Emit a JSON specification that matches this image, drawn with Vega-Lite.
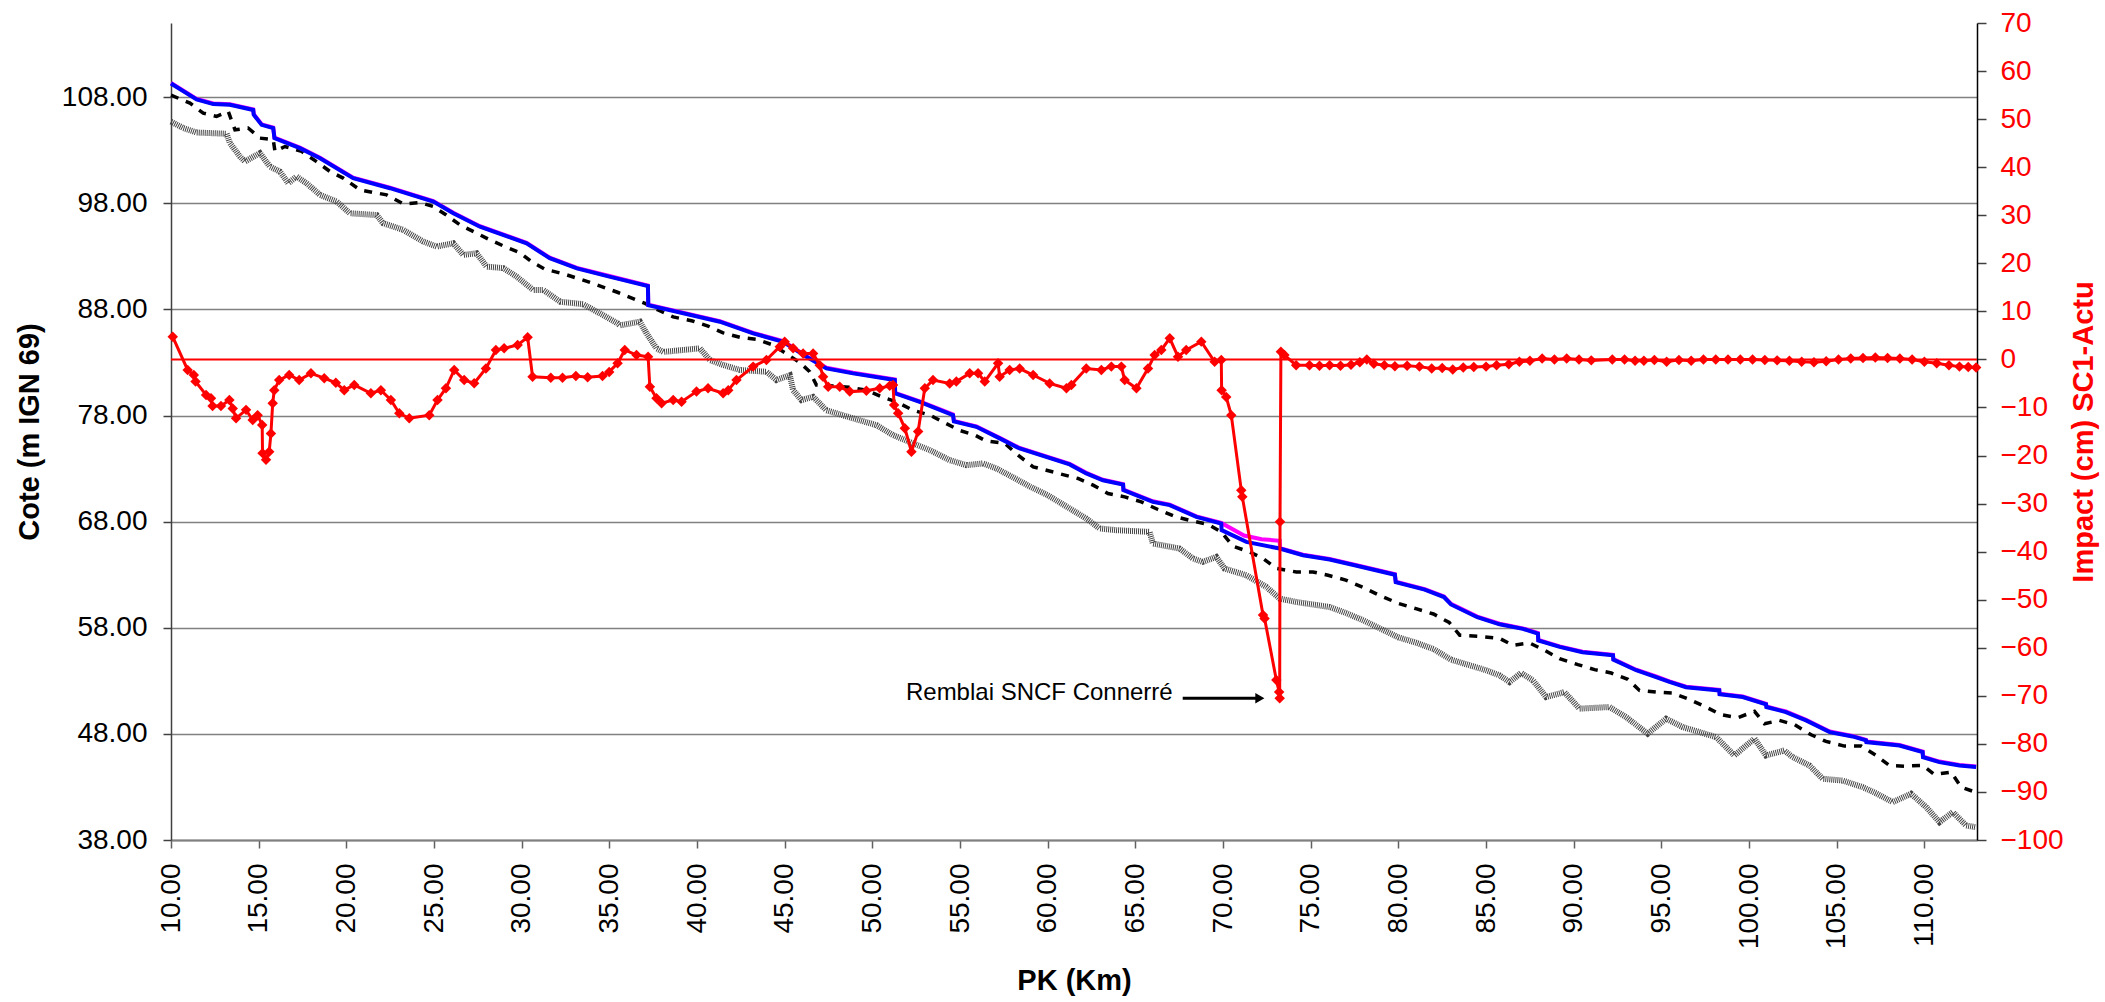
{
"$schema":"https://vega.github.io/schema/vega-lite/v6.json",
"width":1806,"height":817,
"autosize":{"type":"none"},
"padding":{"left":171,"top":23,"right":128,"bottom":162},
"background":"white",
"config":{"view":{"stroke":null},"font":"Liberation Sans"},
"datasets":{
"blue":[{"km":10,"z":109.3},{"km":11.46,"z":107.8},{"km":12.41,"z":107.36},{"km":13.36,"z":107.3},{"km":14.69,"z":106.8},{"km":14.72,"z":106.35},{"km":15.17,"z":105.4},{"km":15.83,"z":105.1},{"km":15.9,"z":104.15},{"km":17.35,"z":103.2},{"km":18.5,"z":102.26},{"km":20.39,"z":100.38},{"km":22.49,"z":99.43},{"km":24.96,"z":98.17},{"km":26.1,"z":97.07},{"km":27.62,"z":95.8},{"km":30.28,"z":94.24},{"km":31.6,"z":92.83},{"km":33.15,"z":91.87},{"km":35.0,"z":91.1},{"km":37.2,"z":90.2},{"km":37.22,"z":88.4},{"km":41.3,"z":86.85},{"km":43.2,"z":85.75},{"km":44.91,"z":84.96},{"km":46.24,"z":83.55},{"km":47.38,"z":82.45},{"km":48.9,"z":81.98},{"km":51.28,"z":81.35},{"km":51.3,"z":80.1},{"km":52.7,"z":79.3},{"km":54.6,"z":78.05},{"km":54.65,"z":77.45},{"km":55.93,"z":76.94},{"km":57.26,"z":75.85},{"km":58.4,"z":74.9},{"km":61.25,"z":73.4},{"km":62.2,"z":72.55},{"km":63.15,"z":71.9},{"km":64.3,"z":71.5},{"km":64.32,"z":70.97},{"km":66.0,"z":69.87},{"km":66.96,"z":69.56},{"km":68.48,"z":68.45},{"km":69.9,"z":67.83},{"km":69.92,"z":67.2},{"km":71.33,"z":66.1},{"km":73.23,"z":65.47},{"km":74.56,"z":64.84},{"km":76.08,"z":64.43},{"km":77.5,"z":63.9},{"km":79.8,"z":63.0},{"km":79.85,"z":62.3},{"km":81.5,"z":61.6},{"km":82.6,"z":60.9},{"km":83.0,"z":60.2},{"km":84.5,"z":59.0},{"km":85.77,"z":58.33},{"km":87.1,"z":57.9},{"km":87.96,"z":57.45},{"km":87.98,"z":56.8},{"km":89.2,"z":56.2},{"km":90.5,"z":55.7},{"km":92.24,"z":55.4},{"km":92.26,"z":55.0},{"km":93.56,"z":54.0},{"km":94.7,"z":53.36},{"km":95.46,"z":52.9},{"km":96.41,"z":52.4},{"km":98.3,"z":52.1},{"km":98.32,"z":51.73},{"km":99.64,"z":51.47},{"km":100.97,"z":50.78},{"km":100.99,"z":50.53},{"km":102.1,"z":50.06},{"km":103.25,"z":49.27},{"km":104.6,"z":48.17},{"km":105.9,"z":47.76},{"km":106.67,"z":47.39},{"km":106.69,"z":47.23},{"km":108.58,"z":46.9},{"km":109.9,"z":46.28},{"km":109.92,"z":45.8},{"km":110.86,"z":45.34},{"km":112.0,"z":45.03},{"km":112.95,"z":44.87}],
"magenta":[{"km":10,"z":109.35},{"km":11.46,"z":107.85},{"km":12.41,"z":107.41},{"km":13.36,"z":107.35},{"km":14.69,"z":106.85},{"km":14.72,"z":106.4},{"km":15.17,"z":105.45},{"km":15.83,"z":105.15},{"km":15.9,"z":104.2},{"km":17.35,"z":103.25},{"km":18.5,"z":102.31},{"km":20.39,"z":100.43},{"km":22.49,"z":99.48},{"km":24.96,"z":98.22},{"km":26.1,"z":97.12},{"km":27.62,"z":95.85},{"km":30.28,"z":94.29},{"km":31.6,"z":92.88},{"km":33.15,"z":91.92},{"km":35.0,"z":91.15},{"km":37.2,"z":90.25},{"km":37.22,"z":88.45},{"km":41.3,"z":86.9},{"km":43.2,"z":85.8},{"km":44.91,"z":85.01},{"km":46.24,"z":83.6},{"km":47.38,"z":82.5},{"km":48.9,"z":82.03},{"km":51.28,"z":81.4},{"km":51.3,"z":80.15},{"km":52.7,"z":79.35},{"km":54.6,"z":78.1},{"km":54.65,"z":77.5},{"km":55.93,"z":76.99},{"km":57.26,"z":75.9},{"km":58.4,"z":74.95},{"km":61.25,"z":73.45},{"km":62.2,"z":72.6},{"km":63.15,"z":71.95},{"km":64.3,"z":71.55},{"km":64.32,"z":71.02},{"km":66.0,"z":69.92},{"km":66.96,"z":69.61},{"km":68.48,"z":68.5},{"km":69.9,"z":67.88},{"km":71.2,"z":66.7},{"km":72.2,"z":66.35},{"km":73.23,"z":66.2},{"km":73.25,"z":65.5},{"km":74.56,"z":64.89},{"km":76.08,"z":64.48},{"km":77.5,"z":63.95},{"km":79.8,"z":63.05},{"km":79.85,"z":62.35},{"km":81.5,"z":61.65},{"km":82.6,"z":60.95},{"km":83.0,"z":60.25},{"km":84.5,"z":59.05},{"km":85.77,"z":58.38},{"km":87.1,"z":57.95},{"km":87.96,"z":57.5},{"km":87.98,"z":56.85},{"km":89.2,"z":56.25},{"km":90.5,"z":55.75},{"km":92.24,"z":55.45},{"km":92.26,"z":55.05},{"km":93.56,"z":54.05},{"km":94.7,"z":53.41},{"km":95.46,"z":52.95},{"km":96.41,"z":52.45},{"km":98.3,"z":52.15},{"km":98.32,"z":51.78},{"km":99.64,"z":51.52},{"km":100.97,"z":50.83},{"km":100.99,"z":50.58},{"km":102.1,"z":50.11},{"km":103.25,"z":49.32},{"km":104.6,"z":48.22},{"km":105.9,"z":47.81},{"km":106.67,"z":47.44},{"km":106.69,"z":47.28},{"km":108.58,"z":46.95},{"km":109.9,"z":46.33},{"km":109.92,"z":45.85},{"km":110.86,"z":45.39},{"km":112.0,"z":45.08},{"km":112.95,"z":44.92}],
"bank":[{"km":10,"z":108.2},{"km":11.08,"z":107.45},{"km":11.84,"z":106.5},{"km":12.6,"z":106.2},{"km":13.27,"z":106.66},{"km":13.65,"z":104.93},{"km":14.4,"z":105.1},{"km":15.07,"z":104.15},{"km":15.83,"z":104.0},{"km":15.93,"z":102.9},{"km":16.5,"z":103.36},{"km":17.45,"z":102.9},{"km":18.3,"z":101.94},{"km":19.07,"z":101.0},{"km":19.82,"z":100.38},{"km":20.78,"z":99.27},{"km":22.3,"z":98.8},{"km":23.25,"z":97.95},{"km":24.2,"z":98.08},{"km":24.96,"z":97.7},{"km":25.7,"z":96.9},{"km":26.48,"z":95.97},{"km":27.43,"z":95.19},{"km":28.19,"z":94.56},{"km":29.04,"z":93.93},{"km":29.9,"z":93.36},{"km":30.56,"z":92.5},{"km":31.32,"z":91.8},{"km":32.5,"z":91.3},{"km":34.0,"z":90.5},{"km":35.5,"z":89.6},{"km":37.0,"z":88.6},{"km":37.78,"z":87.95},{"km":38.64,"z":87.3},{"km":39.69,"z":86.94},{"km":40.63,"z":86.44},{"km":41.49,"z":85.8},{"km":42.44,"z":85.38},{"km":43.39,"z":85.19},{"km":44.34,"z":84.65},{"km":45.86,"z":83.0},{"km":46.43,"z":82.13},{"km":46.81,"z":80.88},{"km":47.76,"z":80.78},{"km":48.71,"z":80.66},{"km":49.66,"z":80.4},{"km":50.52,"z":79.77},{"km":51.37,"z":79.3},{"km":52.32,"z":78.5},{"km":53.27,"z":78.05},{"km":54.03,"z":77.4},{"km":54.98,"z":76.6},{"km":55.84,"z":76.16},{"km":56.5,"z":75.6},{"km":57.55,"z":75.38},{"km":58.31,"z":74.27},{"km":59.17,"z":73.17},{"km":60.5,"z":72.6},{"km":61.73,"z":72.07},{"km":62.59,"z":71.44},{"km":63.44,"z":70.66},{"km":64.39,"z":70.34},{"km":65.34,"z":69.87},{"km":66.29,"z":69.15},{"km":67.24,"z":68.5},{"km":68.19,"z":68.08},{"km":69.14,"z":67.76},{"km":69.9,"z":67.04},{"km":70.56,"z":65.69},{"km":71.52,"z":65.15},{"km":72.28,"z":64.53},{"km":73.04,"z":63.6},{"km":74.18,"z":63.26},{"km":75.13,"z":63.26},{"km":75.99,"z":62.95},{"km":77,"z":62.5},{"km":78,"z":61.8},{"km":79,"z":61.0},{"km":80,"z":60.3},{"km":81,"z":59.8},{"km":82,"z":59.3},{"km":82.9,"z":58.5},{"km":83.5,"z":57.3},{"km":84.5,"z":57.2},{"km":85.77,"z":57.0},{"km":86.53,"z":56.35},{"km":87.48,"z":56.57},{"km":88.34,"z":55.88},{"km":89.19,"z":55.1},{"km":90.24,"z":54.53},{"km":91.19,"z":54.06},{"km":92.14,"z":53.74},{"km":93.09,"z":53.14},{"km":93.75,"z":52.1},{"km":94.7,"z":51.94},{"km":95.65,"z":51.85},{"km":96.6,"z":51.25},{"km":97.55,"z":50.53},{"km":98.4,"z":49.81},{"km":99.36,"z":49.53},{"km":100.31,"z":50.12},{"km":100.88,"z":48.96},{"km":101.73,"z":49.27},{"km":102.59,"z":48.87},{"km":103.54,"z":47.92},{"km":104.39,"z":47.29},{"km":105.44,"z":46.85},{"km":106.39,"z":46.85},{"km":107.24,"z":45.97},{"km":108.0,"z":45.03},{"km":108.86,"z":44.96},{"km":109.9,"z":45.03},{"km":110.57,"z":44.18},{"km":111.52,"z":44.4},{"km":112.1,"z":42.98},{"km":112.75,"z":42.6},{"km":112.95,"z":42.5}],
"bed":[{"km":10,"z":105.7},{"km":10.7,"z":105.1},{"km":11.46,"z":104.68},{"km":13.17,"z":104.56},{"km":13.36,"z":103.68},{"km":13.93,"z":102.42},{"km":14.22,"z":101.94},{"km":15.07,"z":102.74},{"km":15.64,"z":101.47},{"km":16.21,"z":101.0},{"km":16.69,"z":99.9},{"km":17.16,"z":100.53},{"km":17.73,"z":99.9},{"km":18.5,"z":98.8},{"km":19.45,"z":98.17},{"km":20.2,"z":97.07},{"km":21.73,"z":96.9},{"km":22.1,"z":96.13},{"km":23.25,"z":95.5},{"km":24.39,"z":94.4},{"km":25.15,"z":93.93},{"km":26.1,"z":94.24},{"km":26.67,"z":93.14},{"km":27.43,"z":93.3},{"km":28.0,"z":92.04},{"km":28.95,"z":91.9},{"km":29.71,"z":91.1},{"km":30.66,"z":89.84},{"km":31.23,"z":89.84},{"km":32.2,"z":88.73},{"km":33.5,"z":88.5},{"km":34.5,"z":87.6},{"km":35.47,"z":86.7},{"km":35.6,"z":86.5},{"km":36.74,"z":86.85},{"km":37.12,"z":85.75},{"km":37.69,"z":84.34},{"km":38.07,"z":84.0},{"km":40.16,"z":84.34},{"km":40.73,"z":83.24},{"km":41.49,"z":82.77},{"km":42.44,"z":82.3},{"km":43.96,"z":82.13},{"km":44.53,"z":81.35},{"km":45.29,"z":81.8},{"km":45.48,"z":80.4},{"km":45.96,"z":79.46},{"km":46.62,"z":79.77},{"km":47.38,"z":78.5},{"km":48.9,"z":77.74},{"km":50.23,"z":77.1},{"km":51.18,"z":76.16},{"km":52.32,"z":75.38},{"km":53.27,"z":74.75},{"km":54.41,"z":73.8},{"km":55.36,"z":73.33},{"km":56.31,"z":73.49},{"km":57.07,"z":73.02},{"km":58.0,"z":72.2},{"km":59.0,"z":71.3},{"km":60.0,"z":70.5},{"km":61.25,"z":69.25},{"km":62.2,"z":68.3},{"km":62.96,"z":67.36},{"km":63.91,"z":67.2},{"km":65.81,"z":67.04},{"km":66.0,"z":65.94},{"km":67.52,"z":65.47},{"km":68.28,"z":64.53},{"km":68.85,"z":64.21},{"km":69.61,"z":64.68},{"km":70.09,"z":63.58},{"km":71.33,"z":62.95},{"km":72.47,"z":61.85},{"km":73.23,"z":60.75},{"km":74.18,"z":60.43},{"km":76.08,"z":59.96},{"km":77,"z":59.4},{"km":78,"z":58.7},{"km":79,"z":57.9},{"km":80,"z":57.1},{"km":81,"z":56.6},{"km":82,"z":56.0},{"km":83,"z":55.0},{"km":84,"z":54.5},{"km":85,"z":54.0},{"km":85.77,"z":53.52},{"km":86.34,"z":52.89},{"km":87.0,"z":53.74},{"km":87.67,"z":53.05},{"km":88.43,"z":51.47},{"km":89.47,"z":51.94},{"km":90.33,"z":50.38},{"km":92.04,"z":50.53},{"km":92.99,"z":49.58},{"km":94.22,"z":48.02},{"km":95.27,"z":49.43},{"km":96.22,"z":48.64},{"km":98.12,"z":47.7},{"km":99.16,"z":45.97},{"km":100.31,"z":47.55},{"km":100.97,"z":45.97},{"km":102.01,"z":46.44},{"km":102.49,"z":45.81},{"km":103.44,"z":45.03},{"km":104.2,"z":43.77},{"km":105.34,"z":43.6},{"km":106.48,"z":42.98},{"km":107.24,"z":42.41},{"km":108.19,"z":41.57},{"km":109.24,"z":42.36},{"km":110.1,"z":41.1},{"km":110.86,"z":39.68},{"km":111.62,"z":40.62},{"km":112.38,"z":39.37},{"km":112.95,"z":39.2}],
"impact":[{"km":10.1,"imp":4.7},{"km":10.95,"imp":-2.2},{"km":11.3,"imp":-3.25},{"km":11.4,"imp":-4.6},{"km":12.0,"imp":-7.4},{"km":12.28,"imp":-8.1},{"km":12.37,"imp":-9.7},{"km":12.85,"imp":-9.7},{"km":13.33,"imp":-8.45},{"km":13.52,"imp":-10.2},{"km":13.71,"imp":-12.25},{"km":14.28,"imp":-10.5},{"km":14.66,"imp":-12.6},{"km":14.94,"imp":-11.6},{"km":15.2,"imp":-13.65},{"km":15.22,"imp":-19.5},{"km":15.42,"imp":-20.9},{"km":15.6,"imp":-19.2},{"km":15.7,"imp":-15.4},{"km":15.8,"imp":-9.1},{"km":15.89,"imp":-6.4},{"km":16.17,"imp":-4.3},{"km":16.74,"imp":-3.25},{"km":17.31,"imp":-4.3},{"km":17.98,"imp":-2.9},{"km":18.74,"imp":-3.9},{"km":19.4,"imp":-4.86},{"km":19.88,"imp":-6.4},{"km":20.45,"imp":-5.3},{"km":21.4,"imp":-7.05},{"km":21.97,"imp":-6.4},{"km":22.54,"imp":-8.45},{"km":23.02,"imp":-11.2},{"km":23.59,"imp":-12.25},{"km":24.73,"imp":-11.6},{"km":25.2,"imp":-8.45},{"km":25.68,"imp":-6.0},{"km":26.15,"imp":-2.2},{"km":26.72,"imp":-4.3},{"km":27.29,"imp":-4.96},{"km":27.96,"imp":-1.9},{"km":28.53,"imp":1.96},{"km":29.0,"imp":2.3},{"km":29.77,"imp":3.0},{"km":30.34,"imp":4.6},{"km":30.62,"imp":-3.6},{"km":31.66,"imp":-3.8},{"km":32.33,"imp":-3.8},{"km":33.09,"imp":-3.45},{"km":33.76,"imp":-3.7},{"km":34.61,"imp":-3.45},{"km":34.99,"imp":-2.6},{"km":35.47,"imp":-0.8},{"km":35.88,"imp":1.96},{"km":36.55,"imp":0.9},{"km":37.21,"imp":0.56},{"km":37.31,"imp":-5.7},{"km":37.69,"imp":-8.1},{"km":37.98,"imp":-9.1},{"km":38.64,"imp":-8.45},{"km":39.12,"imp":-8.8},{"km":39.97,"imp":-6.7},{"km":40.63,"imp":-6.0},{"km":41.49,"imp":-7.05},{"km":41.78,"imp":-6.4},{"km":42.25,"imp":-4.3},{"km":43.2,"imp":-1.5},{"km":43.96,"imp":-0.1},{"km":44.72,"imp":2.65},{"km":45.0,"imp":3.7},{"km":45.48,"imp":2.3},{"km":46.05,"imp":1.25},{"km":46.62,"imp":1.25},{"km":47.0,"imp":-1.2},{"km":47.19,"imp":-3.6},{"km":47.48,"imp":-5.7},{"km":48.14,"imp":-5.7},{"km":48.71,"imp":-6.7},{"km":49.66,"imp":-6.5},{"km":50.42,"imp":-6.0},{"km":50.99,"imp":-5.5},{"km":51.18,"imp":-5.3},{"km":51.24,"imp":-9.5},{"km":51.47,"imp":-11.2},{"km":51.85,"imp":-14.3},{"km":52.23,"imp":-19.2},{"km":52.61,"imp":-15.0},{"km":52.99,"imp":-6.0},{"km":53.46,"imp":-4.3},{"km":54.41,"imp":-5.0},{"km":54.79,"imp":-4.6},{"km":55.55,"imp":-2.9},{"km":56.03,"imp":-2.9},{"km":56.41,"imp":-4.6},{"km":57.17,"imp":-0.8},{"km":57.26,"imp":-3.6},{"km":57.83,"imp":-2.2},{"km":58.4,"imp":-1.9},{"km":59.17,"imp":-3.25},{"km":60.11,"imp":-5.0},{"km":61.07,"imp":-6.0},{"km":61.35,"imp":-5.3},{"km":62.2,"imp":-1.9},{"km":63.06,"imp":-2.2},{"km":63.63,"imp":-1.5},{"km":64.2,"imp":-1.5},{"km":64.39,"imp":-4.3},{"km":65.06,"imp":-6.0},{"km":65.72,"imp":-1.9},{"km":66.1,"imp":0.9},{"km":66.48,"imp":1.96},{"km":66.96,"imp":4.4},{"km":67.43,"imp":0.56},{"km":67.9,"imp":1.96},{"km":68.76,"imp":3.7},{"km":69.52,"imp":-0.5},{"km":69.9,"imp":-0.1},{"km":69.92,"imp":-6.4},{"km":70.18,"imp":-7.8},{"km":70.47,"imp":-11.6},{"km":71.04,"imp":-27.2},{"km":71.1,"imp":-28.6},{"km":72.28,"imp":-53.2},{"km":72.37,"imp":-53.9},{"km":73.04,"imp":-66.7},{"km":73.2,"imp":-69.2},{"km":73.23,"imp":-70.5},{"km":73.25,"imp":-33.8},{"km":73.3,"imp":1.6},{"km":73.5,"imp":0.9},{"km":74.17,"imp":-1.2},{"km":74.93,"imp":-1.2},{"km":75.5,"imp":-1.3},{"km":76.08,"imp":-1.2},{"km":76.7,"imp":-1.3},{"km":77.3,"imp":-1.1},{"km":77.8,"imp":-0.6},{"km":78.2,"imp":0},{"km":78.6,"imp":-0.9},{"km":79.2,"imp":-1.2},{"km":79.8,"imp":-1.4},{"km":80.5,"imp":-1.3},{"km":81.2,"imp":-1.5},{"km":81.9,"imp":-1.9},{"km":82.5,"imp":-1.8},{"km":83.1,"imp":-2.1},{"km":83.7,"imp":-1.7},{"km":84.3,"imp":-1.6},{"km":85.0,"imp":-1.5},{"km":85.6,"imp":-1.2},{"km":86.3,"imp":-1.0},{"km":86.9,"imp":-0.5},{"km":87.5,"imp":-0.3},{"km":88.2,"imp":0.2},{"km":88.9,"imp":0},{"km":89.6,"imp":0.2},{"km":90.3,"imp":0},{"km":91.0,"imp":-0.2},{"km":92.2,"imp":0},{"km":92.9,"imp":0},{"km":93.5,"imp":-0.3},{"km":94.0,"imp":-0.3},{"km":94.6,"imp":-0.1},{"km":95.3,"imp":-0.5},{"km":96.0,"imp":-0.1},{"km":96.7,"imp":-0.3},{"km":97.4,"imp":0},{"km":98.1,"imp":0},{"km":98.8,"imp":0},{"km":99.5,"imp":0},{"km":100.2,"imp":0},{"km":100.9,"imp":-0.1},{"km":101.6,"imp":-0.2},{"km":102.3,"imp":-0.3},{"km":103.0,"imp":-0.5},{"km":103.7,"imp":-0.6},{"km":104.4,"imp":-0.4},{"km":105.1,"imp":0},{"km":105.8,"imp":0.2},{"km":106.5,"imp":0.3},{"km":107.2,"imp":0.4},{"km":107.9,"imp":0.3},{"km":108.6,"imp":0.2},{"km":109.3,"imp":0},{"km":110.0,"imp":-0.5},{"km":110.7,"imp":-0.8},{"km":111.4,"imp":-1.2},{"km":112.0,"imp":-1.5},{"km":112.5,"imp":-1.6},{"km":112.95,"imp":-1.7}],
"zero":[{"km":10,"km2":113,"imp":0}],
"arrow":[{"km":67.7,"km2":72.0,"imp":-70.5}],
"head":[{"km":72.1,"imp":-70.5}],
"label":[{"km":67.13,"imp":-69.4,"text":"Remblai SNCF Connerré"}]
},
"encoding":{
"x":{"field":"km","type":"quantitative","scale":{"domain":[10,113],"nice":false,"zero":false},
"axis":{"values":[10,15,20,25,30,35,40,45,50,55,60,65,70,75,80,85,90,95,100,105,110],"format":".2f","title":"PK (Km)","labelAngle":270,"grid":false,"domainColor":"#808080","domainWidth":2,"tickColor":"#606060","tickSize":8,"tickWidth":1.5,"labelFontSize":28,"labelPadding":15,"labelColor":"black","labelFont":"Liberation Sans","titleFont":"Liberation Sans","titleFontSize":29,"titleFontWeight":"bold","titleColor":"black","titlePadding":18,"labelFlush":false,"labelOverlap":false}}
},
"layer":[
{"layer":[
{"data":{"name":"bed"},"mark":{"type":"line","color":"#444444","strokeWidth":6,"strokeDash":[1,1]},"encoding":{"y":{"field":"z","type":"quantitative"}}},
{"data":{"name":"bank"},"mark":{"type":"line","color":"black","strokeWidth":3.5,"strokeDash":[8,8]},"encoding":{"y":{"field":"z","type":"quantitative"}}},
{"data":{"name":"magenta"},"mark":{"type":"line","color":"#ff00ff","strokeWidth":4},"encoding":{"y":{"field":"z","type":"quantitative"}}},
{"data":{"name":"blue"},"mark":{"type":"line","color":"#0000ff","strokeWidth":4},"encoding":{"y":{"field":"z","type":"quantitative","scale":{"domain":[38,115],"nice":false,"zero":false},
"axis":{"orient":"left","values":[38,48,58,68,78,88,98,108],"format":".2f","title":"Cote (m IGN 69)","grid":true,"gridColor":"#808080","gridWidth":1.5,"domainColor":"#404040","domainWidth":1.5,"tickColor":"#404040","tickSize":8,"tickWidth":1.5,"labelFontSize":28,"labelPadding":16,"labelColor":"black","labelFont":"Liberation Sans","titleFont":"Liberation Sans","titleFontSize":29,"titleFontWeight":"bold","titleColor":"black","titlePadding":17}}}}
]},
{"layer":[
{"data":{"name":"zero"},"mark":{"type":"rule","color":"#ff0000","strokeWidth":2},"encoding":{"x2":{"field":"km2"},"y":{"field":"imp","type":"quantitative","scale":{"domain":[-100,70],"nice":false,"zero":false},
"axis":{"orient":"right","values":[-100,-90,-80,-70,-60,-50,-40,-30,-20,-10,0,10,20,30,40,50,60,70],"format":"d","title":"Impact (cm) SC1-Actu","grid":false,"domainColor":"black","domainWidth":1.5,"tickColor":"#404040","tickSize":9,"tickWidth":1.5,"labelFontSize":28,"labelPadding":14,"labelColor":"#ff0000","labelFont":"Liberation Sans","titleFont":"Liberation Sans","titleFontSize":29,"titleFontWeight":"bold","titleColor":"#ff0000","titleAngle":270,"titleBaseline":"top","titlePadding":6}}}},
{"data":{"name":"impact"},"mark":{"type":"line","color":"#ff0000","strokeWidth":3},"encoding":{"y":{"field":"imp","type":"quantitative"}}},
{"data":{"name":"impact"},"mark":{"type":"point","shape":"diamond","filled":true,"color":"#ff0000","size":110,"opacity":1},"encoding":{"y":{"field":"imp","type":"quantitative"}}},
{"data":{"name":"arrow"},"mark":{"type":"rule","color":"black","strokeWidth":3},"encoding":{"x2":{"field":"km2"},"y":{"field":"imp","type":"quantitative"}}},
{"data":{"name":"head"},"mark":{"type":"point","shape":"triangle-right","filled":true,"color":"black","size":110,"opacity":1},"encoding":{"y":{"field":"imp","type":"quantitative"}}},
{"data":{"name":"label"},"mark":{"type":"text","align":"right","baseline":"middle","font":"Liberation Sans","fontSize":24,"color":"black"},"encoding":{"y":{"field":"imp","type":"quantitative"},"text":{"field":"text"}}}
]}
],
"resolve":{"scale":{"y":"independent"}}
}
